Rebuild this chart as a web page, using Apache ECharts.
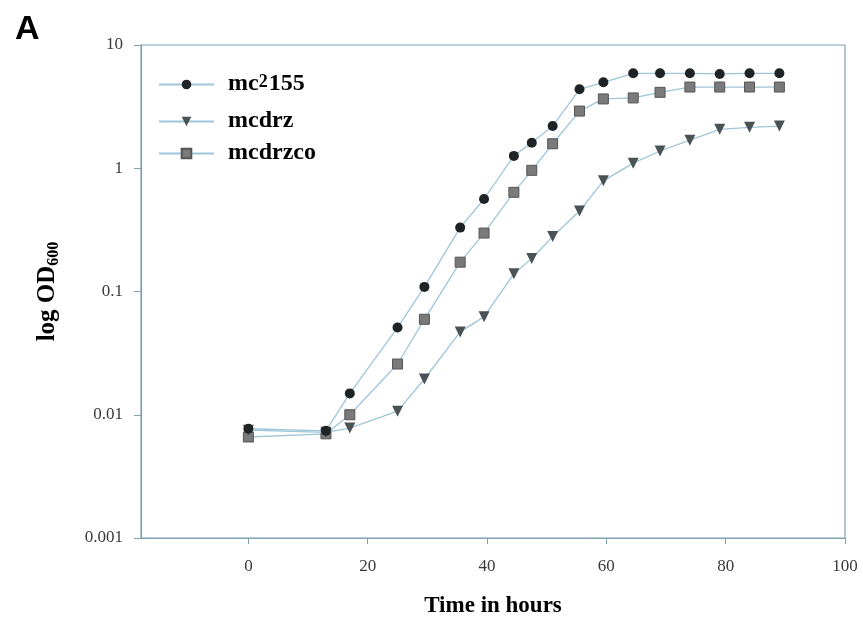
<!DOCTYPE html>
<html>
<head>
<meta charset="utf-8">
<script src="https://cdn.jsdelivr.net/npm/echarts@6/dist/echarts.min.js"></script>
<style>
html,body{margin:0;padding:0;background:#fff;}
#chart{width:863px;height:617px;}
</style>
</head>
<body>
<div id="chart"></div>
<script>
const hours = [0, 13, 17, 25, 29.5, 35.5, 39.5, 44.5, 47.5, 51, 55.5, 59.5, 64.5, 69, 74, 79, 84, 89];
const mc2155 = [0.0077, 0.0074, 0.0149, 0.051, 0.109, 0.33, 0.563, 1.26, 1.61, 2.2, 4.37, 4.98, 5.89, 5.89, 5.89, 5.82, 5.89, 5.89];
const mcdrz = [0.0075, 0.0072, 0.0078, 0.0107, 0.0195, 0.047, 0.0625, 0.139, 0.185, 0.279, 0.45, 0.79, 1.1, 1.38, 1.69, 2.07, 2.15, 2.2];
const mcdrzco = [0.0066, 0.0070, 0.0100, 0.0258, 0.0595, 0.173, 0.298, 0.638, 0.962, 1.58, 2.91, 3.65, 3.72, 4.13, 4.56, 4.56, 4.56, 4.56];
const xTicks = [0, 20, 40, 60, 80, 100];
const seriesNames = ['mc2155', 'mcdrz', 'mcdrzco'];

const pair = (ys) => hours.map((h, i) => [h, ys[i]]);
const serif = 'Liberation Serif';
const axisColor = '#7fa3b5';
const lineColor = '#9fc6d8';

const chart = echarts.init(document.getElementById('chart'));
chart.setOption({
  animation: false,
  backgroundColor: '#fff',
  title: {
    text: 'A', left: 10, top: 8,
    textStyle: {fontFamily: 'Liberation Sans', fontWeight: 'bold', fontSize: 34, color: '#000'}
  },
  grid: {left: 141, right: 18, top: 45, bottom: 79, outerBoundsMode: 'none', containLabel: false,
    show: true, borderColor: axisColor, borderWidth: 1.2, backgroundColor: '#fff'},
  legend: {
    orient: 'vertical', left: 158, top: 72, padding: 0,
    itemWidth: 55, itemHeight: 12, itemGap: 8,
    data: seriesNames,
    formatter: function (name) {
      if (name === 'mc2155') return '{n|mc}{s|2}{n|155}';
      return '{n|' + name + '}';
    },
    textStyle: {
      padding: [0, 0, 0, 9],
      rich: {
        n: {fontFamily: serif, fontWeight: 'bold', fontSize: 24, color: '#000', lineHeight: 23, verticalAlign: 'bottom'},
        s: {fontFamily: serif, fontWeight: 'bold', fontSize: 18, color: '#000', lineHeight: 23, verticalAlign: 'top', padding: [0, 1, 10, 0]}
      }
    }
  },
  xAxis: {
    type: 'value', min: -18, max: 100,
    name: 'Time in hours', nameLocation: 'middle', nameGap: 57,
    nameTextStyle: {fontFamily: serif, fontWeight: 'bold', fontSize: 23, color: '#000'},
    axisLine: {show: true, onZero: false, lineStyle: {color: axisColor, width: 1.2}},
    axisTick: {show: true, customValues: xTicks, length: 6, inside: false, lineStyle: {color: axisColor}},
    axisLabel: {customValues: xTicks, margin: 20, fontFamily: serif, fontSize: 17, color: '#3a3a3a'},
    splitLine: {show: false}
  },
  yAxis: {
    type: 'log', logBase: 10, min: 0.001, max: 10,
    name: '{m|log OD}{b|600}', nameLocation: 'middle', nameGap: 80,
    nameTextStyle: {
      rich: {
        m: {fontFamily: serif, fontWeight: 'bold', fontSize: 25, color: '#000', lineHeight: 26},
        b: {fontFamily: serif, fontWeight: 'bold', fontSize: 16, color: '#000', lineHeight: 26, padding: [11, 0, 0, 0]}
      }
    },
    axisLine: {show: true, onZero: false, lineStyle: {color: axisColor, width: 1.2}},
    axisTick: {show: true, length: 7, lineStyle: {color: axisColor}},
    axisLabel: {margin: 18, fontFamily: serif, fontSize: 17, color: '#3a3a3a',
      formatter: function (v) { return String(Number(v.toPrecision(3))); }},
    splitLine: {show: false},
    minorTick: {show: false}
  },
  series: [
    {
      name: 'mc2155', type: 'line', data: pair(mc2155),
      symbol: 'circle', symbolSize: 10,
      itemStyle: {color: '#1e2326'},
      lineStyle: {color: lineColor, width: 1.3},
      z: 4
    },
    {
      name: 'mcdrz', type: 'line', data: pair(mcdrz),
      symbol: 'triangle', symbolSize: 11, symbolRotate: 180,
      itemStyle: {color: '#4a5256'},
      lineStyle: {color: lineColor, width: 1.3},
      z: 3
    },
    {
      name: 'mcdrzco', type: 'line', data: pair(mcdrzco),
      symbol: 'rect', symbolSize: 10,
      itemStyle: {color: '#7a7a7a', borderColor: '#555', borderWidth: 1},
      lineStyle: {color: lineColor, width: 1.3},
      z: 2
    }
  ]
});
</script>
</body>
</html>
